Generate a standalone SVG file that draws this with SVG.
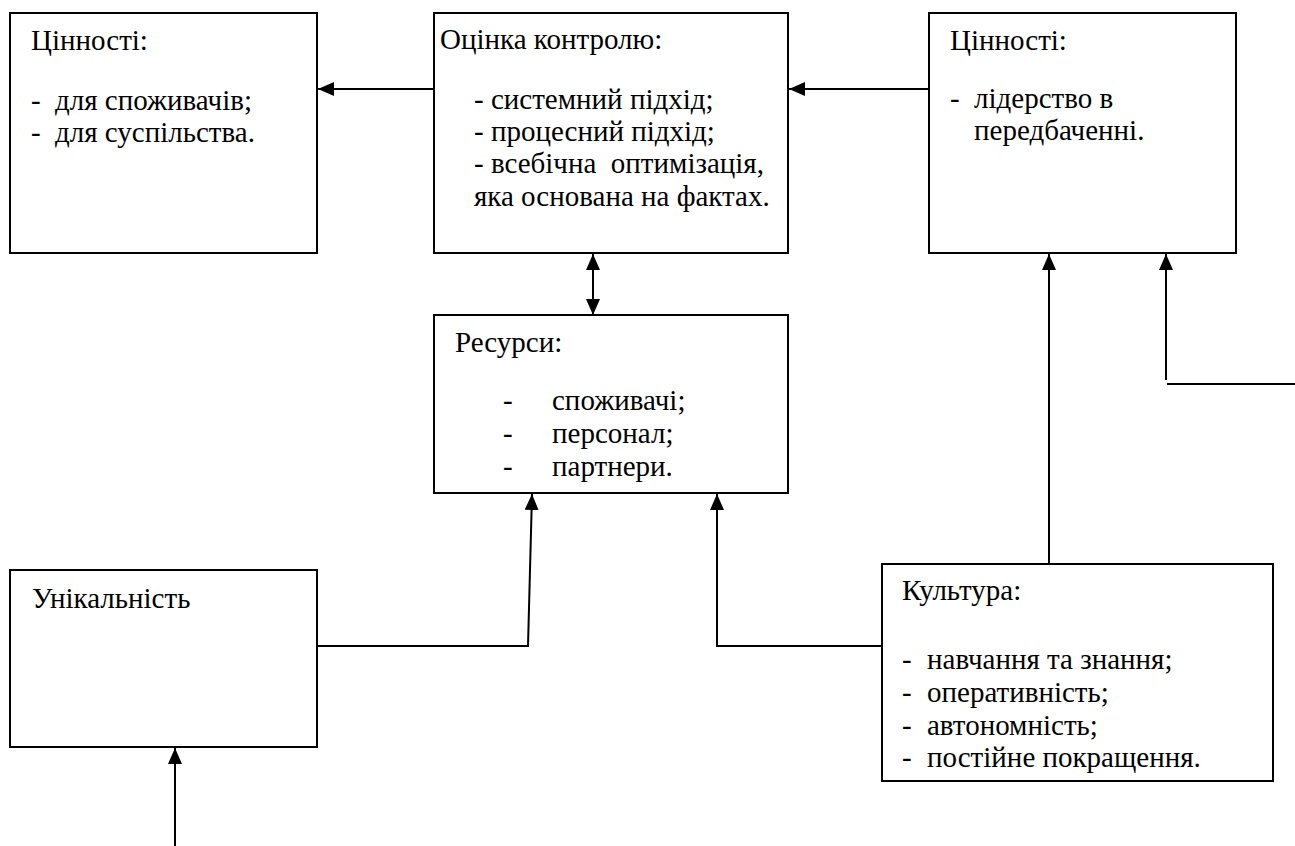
<svg xmlns="http://www.w3.org/2000/svg" width="1295" height="846" viewBox="0 0 1295 846" font-family="Liberation Serif">
<style>
text{font-family:"Liberation Serif","Times New Roman",serif;font-size:29px;fill:#000}
.box{fill:#fff;stroke:#000;stroke-width:2}
.ln{fill:none;stroke:#000;stroke-width:2}
</style>
<defs>
<marker id="ah" viewBox="0 0 16 14" refX="16" refY="7" markerWidth="16" markerHeight="14" markerUnits="userSpaceOnUse" orient="auto-start-reverse">
<path d="M0,0 L16,7 L0,14 z" fill="#000"/>
</marker>
</defs>
<rect width="1295" height="846" fill="#fff"/>
<g id="connectors">
<line class="ln" x1="434" y1="89" x2="318" y2="89" marker-end="url(#ah)"/>
<line class="ln" x1="929" y1="89" x2="789" y2="89" marker-end="url(#ah)"/>
<line class="ln" x1="593" y1="254" x2="593" y2="315" marker-start="url(#ah)" marker-end="url(#ah)"/>
<polyline class="ln" points="317,646 528,646 532,494" marker-end="url(#ah)"/>
<polyline class="ln" points="882,646 717,646 717,494" marker-end="url(#ah)"/>
<line class="ln" x1="1049" y1="564" x2="1049" y2="254" marker-end="url(#ah)"/>
<line class="ln" x1="1166" y1="380" x2="1166" y2="254" marker-end="url(#ah)"/>
<line class="ln" x1="1167" y1="384" x2="1295" y2="384"/>
<line class="ln" x1="175" y1="846" x2="175" y2="748" marker-end="url(#ah)"/>
</g>
<g id="values-left">
<rect class="box" x="10" y="13" width="307" height="240"/>
<text x="31" y="50">Цінності:</text>
<text x="31" y="110">-</text><text x="55" y="110">для споживачів;</text>
<text x="31" y="142">-</text><text x="55" y="142">для суспільства.</text>
</g>
<g id="control">
<rect class="box" x="434" y="13" width="354" height="240"/>
<text x="440" y="49">Оцінка контролю:</text>
<text x="474" y="109">- системний підхід;</text>
<text x="474" y="141">- процесний підхід;</text>
<text x="474" y="173" xml:space="preserve">- всебічна  оптимізація,</text>
<text x="474" y="206">яка основана на фактах.</text>
</g>
<g id="values-right">
<rect class="box" x="929" y="13" width="307" height="240"/>
<text x="950" y="50">Цінності:</text>
<text x="950" y="108">-</text><text x="974" y="108">лідерство в</text>
<text x="974" y="140">передбаченні.</text>
</g>
<g id="resources">
<rect class="box" x="434" y="315" width="354" height="178"/>
<text x="455" y="352">Ресурси:</text>
<text x="503" y="410">-</text><text x="552" y="410">споживачі;</text>
<text x="503" y="443">-</text><text x="552" y="443">персонал;</text>
<text x="503" y="476">-</text><text x="552" y="476">партнери.</text>
</g>
<g id="uniqueness">
<rect class="box" x="10" y="570" width="307" height="177"/>
<text x="32" y="608">Унікальність</text>
</g>
<g id="culture">
<rect class="box" x="882" y="564" width="391" height="217"/>
<text x="902" y="600">Культура:</text>
<text x="902" y="669">-</text><text x="927" y="669">навчання та знання;</text>
<text x="902" y="702">-</text><text x="927" y="702">оперативність;</text>
<text x="902" y="735">-</text><text x="927" y="735">автономність;</text>
<text x="902" y="767">-</text><text x="927" y="767">постійне покращення.</text>
</g>
</svg>
